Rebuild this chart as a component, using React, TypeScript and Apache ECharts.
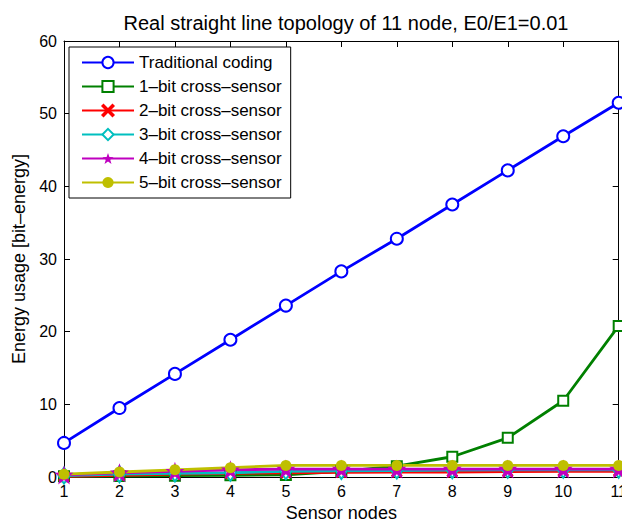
import React, { useEffect, useRef } from "react";
import * as echarts from "echarts";

const nodes = [1, 2, 3, 4, 5, 6, 7, 8, 9, 10, 11];
const traditional = [4.7, 9.5, 14.2, 18.9, 23.6, 28.3, 32.8, 37.5, 42.2, 46.9, 51.5];
const bit1 = [0.1, 0.15, 0.2, 0.25, 0.3, 0.8, 1.5, 2.8, 5.4, 10.5, 20.8];
const bit2 = [0.1, 0.25, 0.4, 0.5, 0.6, 0.65, 0.7, 0.7, 0.75, 0.8, 0.8];
const bit3 = [0.2, 0.4, 0.5, 0.6, 0.8, 0.85, 0.9, 0.95, 1.0, 1.0, 1.0];
const bit4 = [0.3, 0.6, 0.8, 1.0, 1.1, 1.1, 1.1, 1.1, 1.1, 1.1, 1.1];
const bit5 = [0.4, 0.7, 1.0, 1.3, 1.6, 1.6, 1.6, 1.6, 1.6, 1.6, 1.6];
const seriesNames = [
  "Traditional coding",
  "1–bit cross–sensor",
  "2–bit cross–sensor",
  "3–bit cross–sensor",
  "4–bit cross–sensor",
  "5–bit cross–sensor",
];
const yTicks = [0, 10, 20, 30, 40, 50, 60];

const FONT = "Liberation Sans, Arial, Helvetica, sans-serif";
const STAR =
  "path://M0,-10 L2.35,-3.24 L9.51,-3.09 L3.8,1.24 L5.88,8.09 L0,4 L-5.88,8.09 L-3.8,1.24 L-9.51,-3.09 L-2.35,-3.24 Z";
const XMARK =
  "path://M-4,-5 L0,-1 L4,-5 L5,-4 L1,0 L5,4 L4,5 L0,1 L-4,5 L-5,4 L-1,0 L-5,-4 Z";

export default function App() {
  const ref = useRef<HTMLDivElement>(null);
  useEffect(() => {
    if (!ref.current) return;
    const chart = echarts.init(ref.current, null, { renderer: "svg" });
    const pair = (vals: number[]) => nodes.map((n, i) => [n, vals[i]]);
    const mk = (
      name: string,
      vals: number[],
      color: string,
      symbol: string,
      size: any,
      extra: any = {}
    ) => ({
      name,
      type: "line",
      data: pair(vals),
      symbol,
      symbolSize: size,
      showAllSymbol: true,
      lineStyle: { color, width: 2.8 },
      itemStyle: { color, borderColor: color, borderWidth: 2 },
      ...extra,
    });
    const series = [
      mk(seriesNames[0], traditional, "#0000ff", "emptyCircle", 12),
      mk(seriesNames[1], bit1, "#008000", "emptyRect", 10),
      mk(seriesNames[2], bit2, "#ff0000", XMARK, 9),
      mk(seriesNames[3], bit3, "#00bfbf", "emptyDiamond", [11, 16]),
      mk(seriesNames[4], bit4, "#bf00bf", STAR, 19, {
        itemStyle: { color: "#bf00bf", borderWidth: 0 },
      }),
      mk(seriesNames[5], bit5, "#bfbf00", "circle", 11, {
        itemStyle: { color: "#bfbf00", borderWidth: 0 },
      }),
    ];
    const axisText = { fontFamily: FONT, fontSize: 16, color: "#000" };
    chart.setOption({
      animation: false,
      backgroundColor: "#ffffff",
      title: {
        text: "Real straight line topology of 11 node, E0/E1=0.01",
        left: 341,
        top: 8,
        textAlign: "center",
        textStyle: { fontFamily: FONT, fontSize: 20, fontWeight: "normal", color: "#000" },
      },
      legend: {
        left: 69,
        top: 47,
        orient: "vertical",
        itemWidth: 52,
        itemHeight: 14,
        itemGap: 7,
        padding: [7, 9, 7, 12],
        backgroundColor: "#ffffff",
        borderColor: "#000",
        borderWidth: 1,
        textStyle: { fontFamily: FONT, fontSize: 17, color: "#000" },
        data: seriesNames,
      },
      grid: { left: 64, right: 11, top: 41, bottom: 49, show: false },
      xAxis: [
        {
          type: "value",
          min: 1,
          max: 11,
          interval: 1,
          name: "Sensor nodes",
          nameLocation: "middle",
          nameGap: 26,
          nameTextStyle: { fontFamily: FONT, fontSize: 18, color: "#000" },
          axisLine: { onZero: false, lineStyle: { color: "#000", width: 1 } },
          axisTick: { inside: true, length: 6, lineStyle: { color: "#000" } },
          axisLabel: { ...axisText, margin: 6 },
          splitLine: { show: false },
        },
        {
          type: "value",
          position: "top",
          min: 1,
          max: 11,
          interval: 1,
          axisLine: { onZero: false, lineStyle: { color: "#000", width: 1 } },
          axisTick: { inside: true, length: 6, lineStyle: { color: "#000" } },
          axisLabel: { show: false },
          splitLine: { show: false },
        },
      ],
      yAxis: [
        {
          type: "value",
          min: yTicks[0],
          max: yTicks[yTicks.length - 1],
          interval: 10,
          name: "Energy usage [bit–energy]",
          nameLocation: "middle",
          nameGap: 32,
          nameTextStyle: { fontFamily: FONT, fontSize: 18, color: "#000" },
          axisLine: { show: true, onZero: false, lineStyle: { color: "#000", width: 1 } },
          axisTick: { show: true, inside: true, length: 6, lineStyle: { color: "#000" } },
          axisLabel: { ...axisText, margin: 7 },
          splitLine: { show: false },
        },
        {
          type: "value",
          position: "right",
          min: yTicks[0],
          max: yTicks[yTicks.length - 1],
          interval: 10,
          axisLine: { show: true, onZero: false, lineStyle: { color: "#000", width: 1 } },
          axisTick: { show: true, inside: true, length: 6, lineStyle: { color: "#000" } },
          axisLabel: { show: false },
          splitLine: { show: false },
        },
      ],
      series,
    });
    return () => chart.dispose();
  }, []);
  return <div ref={ref} style={{ width: 630, height: 527, margin: -8 }} />;
}
